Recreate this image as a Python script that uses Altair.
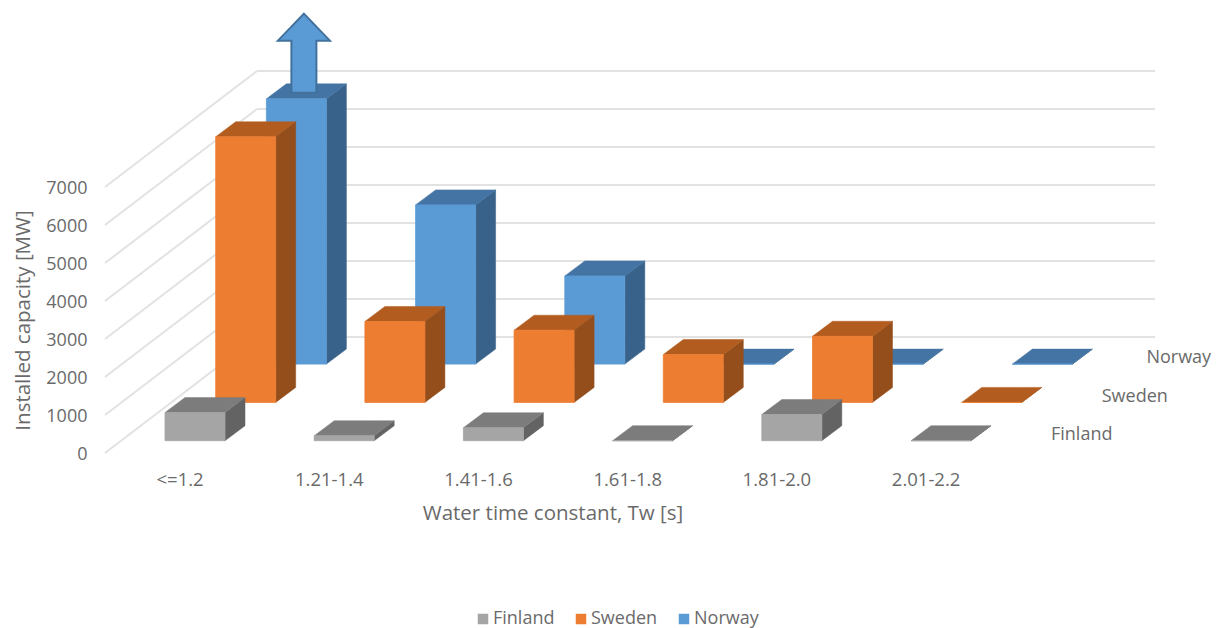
import json
import altair as alt
import pandas as pd

categories = ["<=1.2", "1.21-1.4", "1.41-1.6", "1.61-1.8", "1.81-2.0", "2.01-2.2"]
series_names = ["Finland", "Sweden", "Norway"]
finland = [740, 130, 340, 0, 690, 0]
sweden = [6990, 2130, 1900, 1260, 1740, 0]
norway = [6980, 4190, 2320, 0, 0, 0]
y_ticks = [0, 1000, 2000, 3000, 4000, 5000, 6000, 7000]
wall_levels = [0, 1000, 2000, 3000, 4000, 5000, 6000, 7000]
front_colors = ["#A5A5A5", "#ED7D31", "#5B9BD5"]
top_colors = ["#7C7C7C", "#B25C1F", "#4474A3"]
side_colors = ["#636363", "#944E1C", "#386289"]

PX_PER_CAT = 149.2
PX_PER_MW = 0.038
PLOT_W, PLOT_H = 1108, 445
LEFT_PAD = 97
TEXT = "#6a6a6a"
FONT = "Open Sans"


def cx(px):
    return px / PX_PER_CAT


def my(px):
    return px / PX_PER_MW


STEP_X, STEP_Y = cx(50.7), my(38.3)          # depth of one series row
BAR_W, GAP_X, GAP_Y = cx(60), cx(60), my(12.3)
DEPTH_X, DEPTH_Y = cx(20), my(15)            # depth of one column


def faces(values, s):
    """Project one series' values into the oblique 3D view."""
    top, side, front = [], [], []
    for c, v in enumerate(values):
        x0 = c + GAP_X + s * STEP_X
        b = GAP_Y + s * STEP_Y
        t = b + v
        top += [
            dict(f=c, x=x0, y=t, y2=t),
            dict(f=c, x=x0 + DEPTH_X, y=t, y2=t + DEPTH_Y),
            dict(f=c, x=x0 + BAR_W, y=t, y2=t + DEPTH_Y),
            dict(f=c, x=x0 + BAR_W + DEPTH_X, y=t + DEPTH_Y, y2=t + DEPTH_Y),
        ]
        side += [
            dict(f=c, x=x0 + BAR_W, y=b, y2=t),
            dict(f=c, x=x0 + BAR_W + DEPTH_X, y=b + DEPTH_Y, y2=t + DEPTH_Y),
        ]
        front += [
            dict(f=c, x=x0, y=b, y2=t, series=series_names[s]),
            dict(f=c, x=x0 + BAR_W, y=b, y2=t, series=series_names[s]),
        ]
    return pd.DataFrame(top), pd.DataFrame(side), pd.DataFrame(front)


x_scale = alt.Scale(domain=[0, PLOT_W / PX_PER_CAT], nice=False, zero=False)
y_scale = alt.Scale(domain=[0, PLOT_H / PX_PER_MW], nice=False, zero=False)
label_expr = "%s[floor(datum.value)]" % json.dumps(categories)
X = alt.X(
    "x:Q", scale=x_scale,
    axis=alt.Axis(
        values=[i + 0.5 for i in range(len(categories))], labelExpr=label_expr,
        title="Water time constant, Tw [s]", domain=False, ticks=False, grid=False,
        labelPadding=17, labelFontSize=18.5, labelColor=TEXT, labelFont=FONT,
        titleFont=FONT, titleFontSize=20.5, titleColor=TEXT, titleFontWeight="normal",
        titlePadding=15, titleX=(421 + 684) / 2 - 105, labelOverlap=False, labelFlush=False,
    ),
)
Y = alt.Y(
    "y:Q", scale=y_scale,
    axis=alt.Axis(
        values=y_ticks, format="d", title="Installed capacity [MW]", domain=False, ticks=False, grid=False,
        labelPadding=18, labelFontSize=18, labelColor=TEXT, labelFont=FONT, labelOffset=1,
        titleFont=FONT, titleFontSize=20.5, titleColor=TEXT, titleFontWeight="normal",
        titlePadding=12, titleY=(208 + 432) / 2 - 8, labelOverlap=False, labelFlush=False,
    ),
)
Y2 = alt.Y2("y2:Q")

wall_x0, wall_x1 = cx(152), cx(1155 - 105)
wall_y = my(116)
wall = pd.DataFrame([dict(x=wall_x0, x2=wall_x1, y=v + wall_y, y2=v + wall_y) for v in wall_levels])
diag = pd.DataFrame([dict(x=0, x2=wall_x0, y=v, y2=v + wall_y) for v in wall_levels])
grid_df = pd.concat([wall, diag], ignore_index=True)
grid = alt.Chart(grid_df).mark_rule(color="#e2e2e2", strokeWidth=2).encode(
    x=X, x2=alt.X2("x2:Q"), y=Y, y2=Y2
)

layers = [grid]
color_scale = alt.Scale(domain=series_names, range=front_colors)
legend = alt.Legend(
    orient="none", legendX=369, legendY=602, direction="horizontal", title=None,
    symbolType="square", symbolSize=110, symbolStrokeWidth=0,
    labelFont=FONT, labelFontSize=18, labelColor=TEXT, columnPadding=17, labelOffset=1,
)
all_values = [finland, sweden, norway]

arrow_layer = None
for s in [2, 1, 0]:
    top_df, side_df, front_df = faces(all_values[s], s)
    layers.append(alt.Chart(side_df).mark_area(
        color=side_colors[s], stroke=side_colors[s], strokeWidth=0.5, opacity=1
    ).encode(x=X, y=Y, y2=Y2, detail="f:N"))
    layers.append(alt.Chart(top_df).mark_area(
        color=top_colors[s], stroke=top_colors[s], strokeWidth=0.5, opacity=1
    ).encode(x=X, y=Y, y2=Y2, detail="f:N"))
    layers.append(alt.Chart(front_df).mark_area(
        stroke=front_colors[s], strokeWidth=0.8, opacity=1
    ).encode(
        x=X, y=Y, y2=Y2, detail="f:N",
        color=alt.Color("series:N", scale=color_scale, legend=legend),
    ))
    if s == 2:
        # up arrow anchored on the truncated Norway column
        ax = GAP_X + 2 * STEP_X + cx(37.5)
        base = GAP_Y + 2 * STEP_Y + norway[0] + my(6.2)
        hw, sw, hh, sl = cx(26), cx(12.5), my(27), my(52)
        head = base + my(52) + my(27)
        a = pd.DataFrame([
            dict(x=ax - hw, y=head - hh, y2=head - hh),
            dict(x=ax - sw, y=head - hh, y2=head - hh + hh * (hw - sw) / hw),
            dict(x=ax - sw + 1e-5, y=head - hh - sl, y2=head - hh + hh * (hw - sw) / hw),
            dict(x=ax, y=head - hh - sl, y2=head),
            dict(x=ax + sw - 1e-5, y=head - hh - sl, y2=head - hh + hh * (hw - sw) / hw),
            dict(x=ax + sw, y=head - hh, y2=head - hh + hh * (hw - sw) / hw),
            dict(x=ax + hw, y=head - hh, y2=head - hh),
        ])
        arrow_layer = alt.Chart(a).mark_area(
            color="#5B9BD5", stroke="#41719C", strokeWidth=2, opacity=1
        ).encode(x=X, y=Y, y2=Y2)

layers.append(arrow_layer)

# the last label is nudged so that it stays inside the 1205px-wide drawing
label_nudge = [0, 0, -6]
labels = pd.DataFrame([
    dict(x=cx(1051 - 105 + label_nudge[s]) + s * STEP_X, y=my(18) + s * STEP_Y, t=series_names[s])
    for s in range(3)
])
layers.append(alt.Chart(labels).mark_text(
    align="left", baseline="middle", font=FONT, fontSize=18, color=TEXT
).encode(x=X, y=Y, text="t:N"))

chart = alt.layer(*layers).properties(
    width=PLOT_W, height=PLOT_H,
    autosize=alt.AutoSizeParams(type="none"),
    padding={"left": LEFT_PAD, "top": 0, "right": 0, "bottom": 175},
).configure_view(stroke=None)

chart.save("out.html", embed_options={"renderer": "svg", "actions": False})
